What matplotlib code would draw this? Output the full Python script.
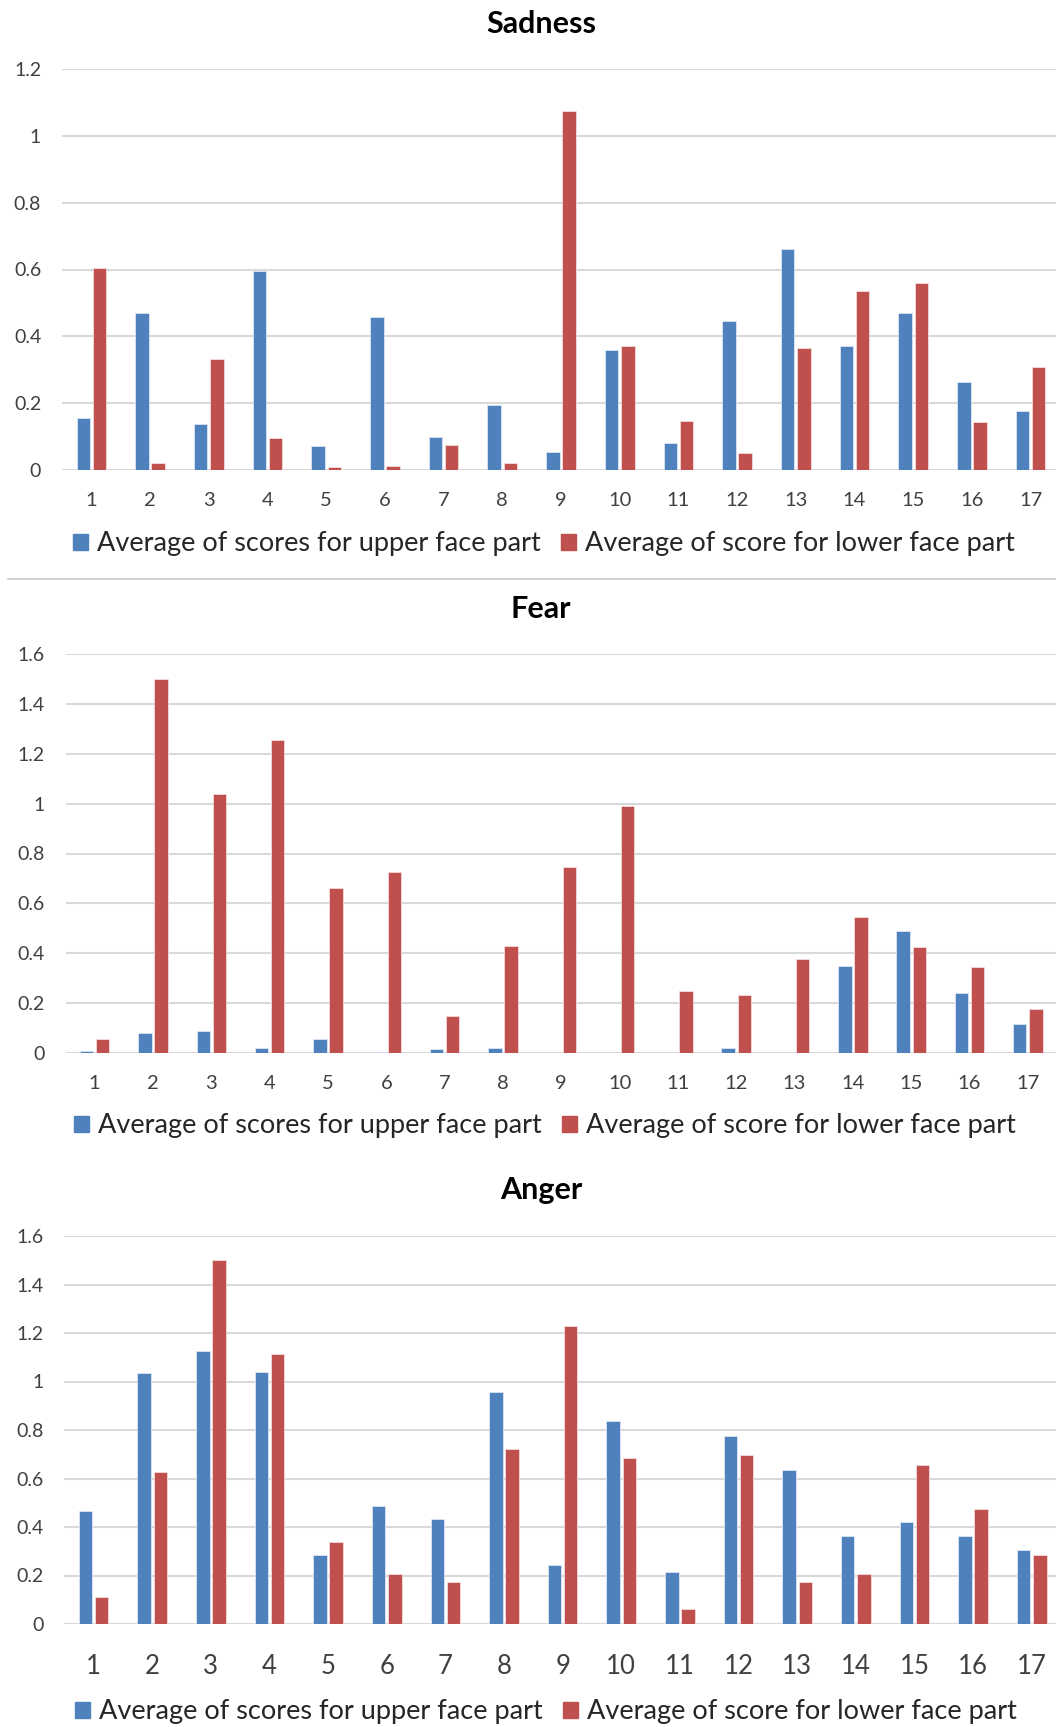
import numpy as np
import matplotlib
matplotlib.use("Agg")
import matplotlib.pyplot as plt
from matplotlib.patches import Patch
from matplotlib.lines import Line2D

plt.rcParams["font.family"] = ["Lato", "DejaVu Sans"]

subjects = [str(i) for i in range(1, 18)]

sadness_upper = [0.155, 0.469, 0.138, 0.596, 0.072, 0.457, 0.100, 0.194, 0.055,
                 0.359, 0.082, 0.447, 0.662, 0.372, 0.471, 0.263, 0.178]
sadness_lower = [0.603, 0.021, 0.332, 0.096, 0.009, 0.011, 0.074, 0.021, 1.075,
                 0.372, 0.146, 0.052, 0.364, 0.537, 0.560, 0.143, 0.307]

fear_upper = [0.009, 0.079, 0.090, 0.022, 0.055, 0.006, 0.015, 0.019, 0.0,
              0.0, 0.0, 0.019, 0.0, 0.350, 0.491, 0.240, 0.118]
fear_lower = [0.058, 1.501, 1.038, 1.256, 0.660, 0.726, 0.150, 0.428, 0.745,
              0.989, 0.248, 0.232, 0.375, 0.546, 0.426, 0.344, 0.175]

anger_upper = [0.465, 1.033, 1.124, 1.038, 0.283, 0.486, 0.435, 0.956, 0.243,
               0.838, 0.215, 0.775, 0.633, 0.364, 0.420, 0.364, 0.307]
anger_lower = [0.112, 0.625, 1.500, 1.115, 0.337, 0.205, 0.175, 0.721, 1.230,
               0.683, 0.060, 0.698, 0.172, 0.205, 0.654, 0.474, 0.284]

upper_label = "Average of scores for upper face part"
lower_label = "Average of score for lower face part"

BLUE = "#4F81BD"
RED = "#C0504D"
GRID = "#D9D9D9"

W, H = 1056, 1727
fig = plt.figure(figsize=(W / 100, H / 100), dpi=100)


def px_axes(left, right, y0, ytop):
    # pixel box -> figure fraction
    return fig.add_axes([left / W, 1 - y0 / H, (right - left) / W, (y0 - ytop) / H])


panels = [
    # title, upper, lower, ymax, axes box, title y, xtick size, xtick pad, legend y, legend x
    ("Sadness", sadness_upper, sadness_lower, 1.2, (62, 1060, 470, 69), 24, 14.5, 16, 544, 544),
    ("Fear", fear_upper, fear_lower, 1.6, (65.5, 1057, 1053, 654), 609, 14.5, 16, 1126, 545),
    ("Anger", anger_upper, anger_lower, 1.6, (64.3, 1061, 1624, 1236), 1190, 18.5, 21.5, 1712, 546),
]

x = np.arange(1, 18)
bw = 0.23
off = 0.138

for title, up, lo, ymax, box, ty, xts, xpad, ly, lx in panels:
    ax = px_axes(*box)
    ax.bar(x - off, up, bw, color=BLUE, edgecolor="#DCE6F2", linewidth=0.6, zorder=3)
    ax.bar(x + off, lo, bw, color=RED, edgecolor="#F2DCDB", linewidth=0.6, zorder=3)
    ax.set_xlim(0.5, 17.5)
    ax.set_ylim(0, ymax)
    ticks = np.round(np.arange(0, ymax + 0.01, 0.2), 1)
    ax.set_yticks(ticks)
    ax.set_yticklabels(["0" if t == 0 else ("1" if t == 1 else f"{t:g}") for t in ticks],
                       fontsize=14, color="#404040")
    ax.set_xticks(x)
    ax.set_xticklabels(subjects, fontsize=xts, color="#404040")
    ax.tick_params(axis="y", length=0, pad=15)
    ax.tick_params(axis="x", length=0, pad=xpad)
    ax.grid(axis="y", color=GRID, linewidth=1.5, zorder=0)
    for s in ax.spines.values():
        s.set_visible(False)
    ax.axhline(0, color=GRID, linewidth=1.5, zorder=2)
    fig.text(541 / W, 1 - ty / H, title, ha="center", va="center",
             fontsize=22, fontweight="bold", color="black")
    handles = [Patch(facecolor=BLUE, edgecolor=BLUE, label=upper_label),
               Patch(facecolor=RED, edgecolor=RED, label=lower_label)]
    fig.legend(handles=handles, loc="center", bbox_to_anchor=(lx / W, 1 - ly / H),
               ncol=2, frameon=False, fontsize=19.5, handlelength=0.55, handleheight=0.55,
               handletextpad=0.35, columnspacing=0.75, borderaxespad=0,
               labelcolor="#262626")

# divider between the first two panels
fig.add_artist(Line2D([8 / W, 1.0], [1 - 579 / H, 1 - 579 / H], color="#D0D0D0",
                      linewidth=1.3))

fig.savefig("out.png", dpi=100, facecolor="white")
